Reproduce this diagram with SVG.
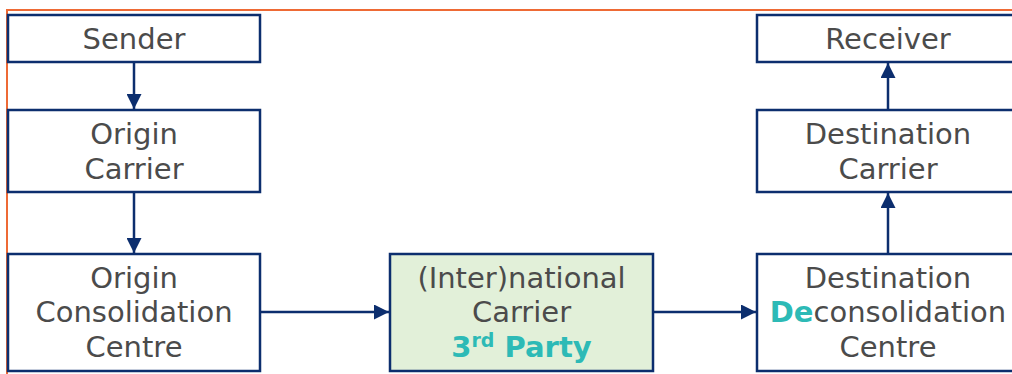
<svg xmlns="http://www.w3.org/2000/svg" width="1012" height="374" viewBox="0 0 1012 374">
<defs>
<style>
.box{fill:#ffffff;stroke:#0C2E6E;stroke-width:2.5}
.green{fill:#E2F0D9}
.t{font-family:"DejaVu Sans",Verdana,sans-serif;font-size:29px;fill:#4B4B4B;text-anchor:middle}
.hl{fill:#2DBAB6;font-weight:bold}
.con{stroke:#0C2E6E;stroke-width:2.5;fill:none;marker-end:url(#ah)}
</style>
<marker id="ah" viewBox="0 0 10 10" refX="10" refY="5" markerWidth="6" markerHeight="6" markerUnits="strokeWidth" orient="auto">
<path d="M0,0 L10,5 L0,10 Z" fill="#0C2E6E"/>
</marker>
</defs>
<rect width="1012" height="374" fill="#ffffff"/>
<path d="M7,374 V10 H1012" fill="none" stroke="#EE6A35" stroke-width="2"/>
<g id="sender">
<rect class="box" x="8" y="15" width="252" height="47"/>
<text class="t" x="134" y="49">Sender</text>
</g>
<g id="origin-carrier">
<rect class="box" x="8" y="110" width="252" height="82"/>
<text class="t" x="134" y="144">Origin</text>
<text class="t" x="134" y="179">Carrier</text>
</g>
<g id="origin-consolidation">
<rect class="box" x="8" y="254" width="252" height="117"/>
<text class="t" x="134" y="288">Origin</text>
<text class="t" x="134" y="322">Consolidation</text>
<text class="t" x="134" y="357">Centre</text>
</g>
<g id="international-carrier">
<rect class="box green" x="390" y="254" width="263" height="117"/>
<text class="t" x="521.5" y="288">(Inter)national</text>
<text class="t" x="521.5" y="322">Carrier</text>
<text class="t hl" x="521.5" y="357">3<tspan font-size="19" dy="-10">rd</tspan><tspan dy="10"> Party</tspan></text>
</g>
<g id="destination-deconsolidation">
<rect class="box" x="757" y="254" width="262" height="117"/>
<text class="t" x="888" y="288">Destination</text>
<text class="t" x="888" y="322"><tspan class="hl">De</tspan>consolidation</text>
<text class="t" x="888" y="357">Centre</text>
</g>
<g id="destination-carrier">
<rect class="box" x="757" y="110" width="262" height="82"/>
<text class="t" x="888" y="144">Destination</text>
<text class="t" x="888" y="179">Carrier</text>
</g>
<g id="receiver">
<rect class="box" x="757" y="15" width="262" height="47"/>
<text class="t" x="888" y="49">Receiver</text>
</g>
<g id="connectors">
<line class="con" x1="134" y1="62" x2="134" y2="109"/>
<line class="con" x1="134" y1="192" x2="134" y2="253"/>
<line class="con" x1="260" y1="312" x2="389" y2="312"/>
<line class="con" x1="653" y1="312" x2="756" y2="312"/>
<line class="con" x1="888" y1="254" x2="888" y2="193"/>
<line class="con" x1="888" y1="110" x2="888" y2="63"/>
</g>
</svg>
